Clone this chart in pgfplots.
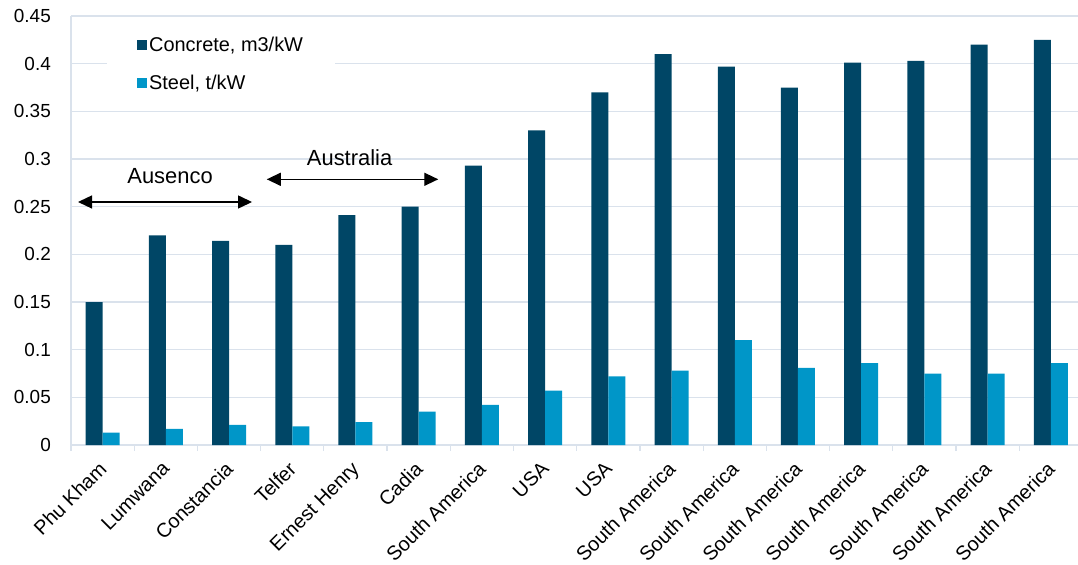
\documentclass[border=0pt]{standalone}
\usepackage{fontspec}
\setmainfont{Liberation Sans}
\usepackage{pgfplots}
\usepackage{pgfplotstable}
\pgfplotsset{compat=1.18}
\usetikzlibrary{arrows.meta}
\definecolor{concrete}{RGB}{0,70,102}
\definecolor{steel}{RGB}{0,150,200}
\definecolor{gridc}{RGB}{218,226,236}

\pgfplotstableread{
x concrete steel
0  0.150 0.013
1  0.220 0.017
2  0.214 0.021
3  0.210 0.0195
4  0.241 0.024
5  0.250 0.035
6  0.293 0.042
7  0.330 0.057
8  0.370 0.072
9  0.410 0.078
10 0.397 0.110
11 0.375 0.081
12 0.401 0.086
13 0.403 0.075
14 0.420 0.075
15 0.425 0.086
}\datatable

\begin{document}
\begin{tikzpicture}
\begin{axis}[
  scale only axis, width=1007bp, height=429bp,
  xmin=-0.5, xmax=15.43, ymin=0, ymax=0.45,
  axis x line=bottom, axis y line=left,
  axis line style={draw=gridc, line width=1.2bp, -},
  ybar=0pt, bar width=17bp,
  xtick={0,...,15},
  xticklabels={Phu Kham,Lumwana,Constancia,Telfer,Ernest Henry,Cadia,South America,USA,USA,South America,South America,South America,South America,South America,South America,South America},
  minor xtick={-0.5,0.5,...,14.5},
  major x tick style={draw=none},
  minor x tick style={draw=gridc, line width=1.2bp},
  minor tick length=6bp,
  major tick length=0bp,
  tick align=outside,
  xticklabel style={xshift=-5bp, yshift=-15bp, rotate=45, anchor=north east, font=\fontsize{20}{23}\selectfont, inner sep=0pt},
  ytick={0,0.05,0.1,0.15,0.2,0.25,0.3,0.35,0.4,0.45},
  yticklabels={0,0.05,0.1,0.15,0.2,0.25,0.3,0.35,0.4,0.45},
  ytick style={draw=none},
  yticklabel style={font=\fontsize{19}{22}\selectfont, anchor=east, inner sep=0pt, xshift=-20bp},
  ymajorgrids, grid style={draw=gridc, line width=1.2bp},
  legend style={at={(0.0357,0.998)}, anchor=north west, draw=none, fill=white,
    font=\fontsize{20}{23}\selectfont, inner xsep=30bp, inner ysep=18bp, row sep=18bp},
  legend cell align=left,
  legend image code/.code={\fill[#1] (0bp,-5bp) rectangle (10bp,5bp);},
]
\addplot[fill=concrete, draw=none] table[x=x, y=concrete] {\datatable};
\addplot[fill=steel, draw=none] table[x=x, y=steel] {\datatable};
\legend{{Concrete, m3/kW},{Steel, t/kW}}

\draw[{Triangle[length=14bp,width=13bp]}-{Triangle[length=14bp,width=13bp]}, line width=1.4bp, black]
  (axis cs:-0.389,0.2549) -- (axis cs:2.364,0.2549);
\node[anchor=base, font=\fontsize{22}{25}\selectfont, inner sep=0pt] at (axis cs:1.067,0.2745) {Ausenco};
\draw[{Triangle[length=14bp,width=13bp]}-{Triangle[length=14bp,width=13bp]}, line width=1.4bp, black]
  (axis cs:2.597,0.2787) -- (axis cs:5.31,0.2787);
\node[anchor=base, font=\fontsize{22}{25}\selectfont, inner sep=0pt] at (axis cs:3.907,0.2937) {Australia};
\end{axis}
\pgfresetboundingbox
\path (-71bp,-120bp) rectangle (1007bp,445bp);
\end{tikzpicture}
\end{document}
